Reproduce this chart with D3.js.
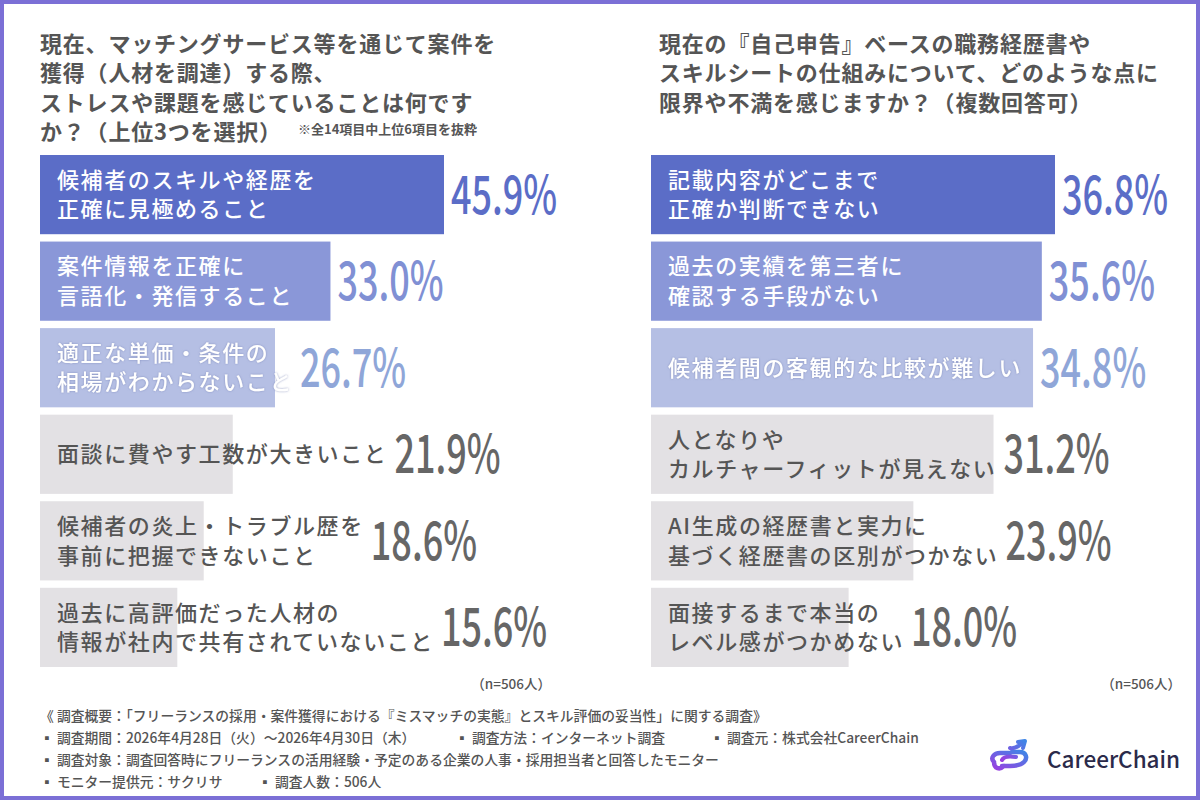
<!DOCTYPE html>
<html>
<head>
<meta charset="utf-8">
<script src="https://cdn.jsdelivr.net/npm/d3@7"></script>
<style>
  html, body { margin: 0; padding: 0; background: #fff; }
  svg { display: block; }
  text { font-family: "Noto Sans CJK JP", "Noto Sans", sans-serif; }
</style>
</head>
<body>
<div id="chart"></div>
<script>
// Left question: top 6 of 14 items
var leftTitle = ["現在、マッチングサービス等を通じて案件を", "獲得（人材を調達）する際、",
                 "ストレスや課題を感じていることは何です", "か？（上位3つを選択）"];
var leftNote = "※全14項目中上位6項目を抜粋";
var leftLabels = ["候補者のスキルや経歴を\n正確に見極めること", "案件情報を正確に\n言語化・発信すること",
                  "適正な単価・条件の\n相場がわからないこと", "面談に費やす工数が大きいこと",
                  "候補者の炎上・トラブル歴を\n事前に把握できないこと",
                  "過去に高評価だった人材の\n情報が社内で共有されていないこと"];
var leftValues = [45.9, 33.0, 26.7, 21.9, 18.6, 15.6];

// Right question (multiple answers)
var rightTitle = ["現在の『自己申告』ベースの職務経歴書や", "スキルシートの仕組みについて、どのような点に",
                  "限界や不満を感じますか？（複数回答可）"];
var rightLabels = ["記載内容がどこまで\n正確か判断できない", "過去の実績を第三者に\n確認する手段がない",
                   "候補者間の客観的な比較が難しい", "人となりや\nカルチャーフィットが見えない",
                   "AI生成の経歴書と実力に\n基づく経歴書の区別がつかない", "面接するまで本当の\nレベル感がつかめない"];
var rightValues = [36.8, 35.6, 34.8, 31.2, 23.9, 18.0];

var sampleNote = "（n=506人）";
var footerLines = [
  ["《 調査概要：「フリーランスの採用・案件獲得における『ミスマッチの実態』とスキル評価の妥当性」に関する調査》"],
  ["▪ 調査期間：2026年4月28日（火）〜2026年4月30日（木）", "▪ 調査方法：インターネット調査", "▪ 調査元：株式会社CareerChain"],
  ["▪ 調査対象：調査回答時にフリーランスの活用経験・予定のある企業の人事・採用担当者と回答したモニター"],
  ["▪ モニター提供元：サクリサ", "▪ 調査人数：506人"]
];
var footerCols = [[0], [0, 415, 670], [0], [0, 218]];

var barColors = ["#5b6dc7", "#8a97d8", "#b5bfe4", "#e3e1e4", "#e3e1e4", "#e3e1e4"];
var pctColors = ["#5b6dc7", "#8090d4", "#8fa6d8", "#666", "#666", "#666"];
var labelColors = ["#fff", "#fff", "#fff", "#555", "#555", "#555"];

var width = 1200, height = 800;

var svg = d3.select("#chart").append("svg")
    .attr("width", width)
    .attr("height", height);

var defs = svg.append("defs");
defs.append("filter").attr("id", "shadow")
    .attr("x", "-10%").attr("y", "-20%").attr("width", "120%").attr("height", "140%")
  .append("feDropShadow")
    .attr("dx", 0).attr("dy", 0).attr("stdDeviation", 1.2)
    .attr("flood-color", "#7a86b8").attr("flood-opacity", 0.8);

var grad = defs.append("linearGradient").attr("id", "logoGrad")
    .attr("x1", "0%").attr("y1", "100%").attr("x2", "100%").attr("y2", "0%");
grad.append("stop").attr("offset", "0%").attr("stop-color", "#9a3fe0");
grad.append("stop").attr("offset", "100%").attr("stop-color", "#3f86e6");

// background + purple frame
svg.append("rect")
    .attr("x", 2).attr("y", 2)
    .attr("width", width - 4).attr("height", height - 4)
    .attr("fill", "#fff")
    .attr("stroke", "#7b6fd6")
    .attr("stroke-width", 4);

// y bands shared by both panels
var y = d3.scaleBand()
    .domain(d3.range(6))
    .range([155, 667])
    .paddingInner(0.085);

function drawPanel(x0, titleX, titleLines, labels, values) {
  var g = svg.append("g");

  g.selectAll(".title")
    .data(titleLines)
    .enter().append("text")
    .attr("x", titleX)
    .attr("y", function (d, i) { return 52 + i * 29.3; })
    .attr("fill", "#555")
    .attr("font-size", 22)
    .attr("font-weight", 700)
    .attr("letter-spacing", 0.8)
    .text(function (d) { return d; });

  var x = d3.scaleLinear()
      .domain([0, d3.max(values)])
      .range([x0, x0 + 404]);

  var rows = g.selectAll(".row")
    .data(values)
    .enter().append("g");

  rows.append("rect")
    .attr("x", x0)
    .attr("y", function (d, i) { return y(i); })
    .attr("width", function (d) { return x(d) - x0; })
    .attr("height", y.bandwidth())
    .attr("fill", function (d, i) { return barColors[i]; });

  rows.each(function (d, i) {
    var row = d3.select(this);
    var lines = labels[i].split("\n");
    var cy = y(i) + y.bandwidth() / 2;
    var t = row.append("text")
      .attr("fill", labelColors[i])
      .attr("font-size", 22)
      .attr("font-weight", 500)
      .attr("letter-spacing", 1.6)
      .attr("filter", i == 2 ? "url(#shadow)" : null);
    lines.forEach(function (ln, k) {
      t.append("tspan")
        .attr("x", x0 + 17)
        .attr("y", cy + 8 + (k - (lines.length - 1) / 2) * 29.5)
        .text(ln);
    });
    var labelEnd = x0 + 17 + t.node().getBBox().width;
    var px = Math.max(x(d), labelEnd) + 7;
    row.append("text")
      .attr("transform", "translate(" + px + "," + (cy + 19) + ") scale(0.68,1)")
      .attr("font-family", "Roboto, sans-serif")
      .attr("font-size", 53)
      .attr("font-weight", 500)
      .attr("fill", pctColors[i])
      .text(d.toFixed(1) + "%");
  });

  return g;
}

drawPanel(40, 40, leftTitle, leftLabels, leftValues);
drawPanel(651, 659, rightTitle, rightLabels, rightValues);

svg.append("text")
    .attr("x", 298).attr("y", 134)
    .attr("fill", "#555")
    .attr("font-size", 13)
    .attr("font-weight", 700)
    .text(leftNote);

svg.selectAll(".n")
    .data([551, 1181])
    .enter().append("text")
    .attr("x", function (d) { return d; })
    .attr("y", 689)
    .attr("text-anchor", "end")
    .attr("fill", "#555")
    .attr("font-size", 13.5)
    .attr("font-weight", 500)
    .text(sampleNote);

// footer
footerLines.forEach(function (line, i) {
  svg.selectAll(".f" + i)
    .data(line)
    .enter().append("text")
    .attr("x", function (d, k) { return 40 + footerCols[i][k]; })
    .attr("y", 721 + i * 22)
    .attr("fill", "#555")
    .attr("font-size", 13.8)
    .attr("font-weight", 500)
    .text(function (d) { return d; });
});

// logo
var logo = svg.append("g").attr("transform", "translate(990,740)");
logo.append("path")
    .attr("d", "M4,22 C0,18 4,13 10,13 L20,13 M14,26 C10,30 4,29 4,22 M22,12 L30,12 C36,12 38,18 34,22 C30,26 24,26 20,26 L12,26")
    .attr("fill", "none").attr("stroke", "url(#logoGrad)")
    .attr("stroke-width", 4.5).attr("stroke-linecap", "round");
logo.append("path")
    .attr("d", "M12,20 C14,16 20,16 26,17 M20,8 C24,9 28,7 32,3 M28,2 L35,1 L33,8")
    .attr("fill", "none").attr("stroke", "url(#logoGrad)")
    .attr("stroke-width", 4).attr("stroke-linecap", "round").attr("stroke-linejoin", "round");
svg.append("text")
    .attr("x", 1047).attr("y", 768)
    .attr("font-family", "Inter, Lato, sans-serif")
    .attr("font-size", 22.5)
    .attr("font-weight", 500)
    .attr("fill", "#2b2a4a")
    .text("CareerChain");
</script>
</body>
</html>
